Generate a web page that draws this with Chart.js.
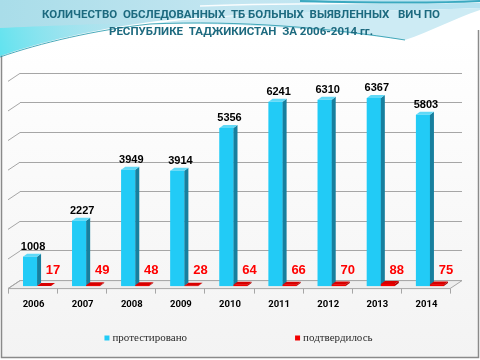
<!DOCTYPE html>
<html><head><meta charset="utf-8">
<script src="https://cdn.jsdelivr.net/npm/chart.js@4/dist/chart.umd.min.js"></script>
<style>html,body{margin:0;padding:0;background:#fff;overflow:hidden}canvas{display:block}</style>
</head><body>
<canvas id="c" width="480" height="360"></canvas>
<script>
const years = ['2006','2007','2008','2009','2010','2011','2012','2013','2014'];
const tested = [1008,2227,3949,3914,5356,6241,6310,6367,5803];
const confirmed = [17,49,48,28,64,66,70,88,75];
const seriesNames = ['протестировано','подтвердилось'];
const titleLines = ['КОЛИЧЕСТВО  ОБСЛЕДОВАННЫХ  ТБ БОЛЬНЫХ  ВЫЯВЛЕННЫХ   ВИЧ ПО','РЕСПУБЛИКЕ  ТАДЖИКИСТАН  ЗА 2006-2014 гг.'];
const yMax = 7000, yStep = 1000;

const PLANE_DX = -7.5, PLANE_DY = 6;   // bar plane relative to back wall
const FLOOR_DX = -12, FLOOR_DY = 8;    // front edge relative to back wall
const BAR_DX = 4, BAR_DY = -3;         // bar depth
const faceColors = [
  {front:'#22CBF6', side:'#177F9E', top:'#5FD9F7'},
  {front:'#F20000', side:'#A80000', top:'#D80000'}
];

const bgPlugin = {
  id:'bg',
  beforeDraw(chart){
    const {ctx,width,height} = chart;
    ctx.save();
    ctx.fillStyle = '#ffffff'; ctx.fillRect(0,0,width,height);
    let g = ctx.createLinearGradient(0,40,0,358);
    g.addColorStop(0,'#ffffff'); g.addColorStop(1,'#f3f3f3');
    ctx.fillStyle = g; ctx.fillRect(2,40,476,317);
    ctx.strokeStyle = '#8a8a8a'; ctx.lineWidth = 1.5;
    ctx.beginPath(); ctx.moveTo(1.5,30); ctx.lineTo(1.5,357.5); ctx.lineTo(478.5,357.5); ctx.lineTo(478.5,30); ctx.stroke();
    // header wave
    let hg = ctx.createLinearGradient(0,0,480,0);
    hg.addColorStop(0,'#a9dde9'); hg.addColorStop(0.5,'#c4e6f1'); hg.addColorStop(1,'#b5e2f0');
    ctx.fillStyle = hg;
    ctx.beginPath(); ctx.moveTo(0,0); ctx.lineTo(480,0); ctx.lineTo(480,8);
    ctx.bezierCurveTo(380,12,230,12,150,22);
    ctx.bezierCurveTo(95,29,40,42,0,56); ctx.closePath(); ctx.fill();
    // cyan glow bottom-left
    let cg = ctx.createLinearGradient(0,60,140,20);
    cg.addColorStop(0,'#5fe3ef'); cg.addColorStop(1,'rgba(180,235,245,0)');
    ctx.fillStyle = cg;
    ctx.beginPath(); ctx.moveTo(0,28); ctx.bezierCurveTo(40,26,100,24,150,22);
    ctx.bezierCurveTo(95,29,40,42,0,56); ctx.closePath(); ctx.fill();
    // lower swoosh
    ctx.fillStyle = '#cdebf4';
    ctx.beginPath(); ctx.moveTo(150,24);
    ctx.bezierCurveTo(240,22,330,30,405,40);
    ctx.bezierCurveTo(430,32,455,18,480,10); ctx.lineTo(480,8);
    ctx.bezierCurveTo(380,12,230,12,150,24); ctx.closePath(); ctx.fill();
    // streak lines
    ctx.strokeStyle = 'rgba(30,150,170,0.8)'; ctx.lineWidth = 1;
    ctx.beginPath(); ctx.moveTo(0,57); ctx.bezierCurveTo(40,43,95,30,150,24); ctx.bezierCurveTo(240,20,330,28,405,40); ctx.stroke();
    ctx.strokeStyle = 'rgba(255,255,255,0.9)'; ctx.lineWidth = 1.5;
    ctx.beginPath(); ctx.moveTo(200,6); ctx.bezierCurveTo(300,2,400,4,480,2); ctx.stroke();
    ctx.strokeStyle = '#3aa9c0'; ctx.lineWidth = 2;
    ctx.beginPath(); ctx.moveTo(300,1); ctx.bezierCurveTo(380,3,440,3,480,1); ctx.stroke();
    ctx.restore();
  }
};

const threeD = {
  id:'threeD',
  beforeDatasetsDraw(chart){
    const {ctx, chartArea:a, scales:{y}} = chart;
    ctx.save();
    ctx.fillStyle = '#eeeeee';
    ctx.beginPath();
    ctx.moveTo(a.left,a.bottom); ctx.lineTo(a.right,a.bottom);
    ctx.lineTo(a.right+FLOOR_DX,a.bottom+FLOOR_DY); ctx.lineTo(a.left+FLOOR_DX,a.bottom+FLOOR_DY);
    ctx.closePath(); ctx.fill();
    ctx.strokeStyle = '#a6a6a6'; ctx.lineWidth = 1; ctx.stroke();
    for (let v=0; v<=yMax; v+=yStep){
      const py = y.getPixelForValue(v);
      ctx.beginPath(); ctx.moveTo(a.left,py); ctx.lineTo(a.left+FLOOR_DX,py+FLOOR_DY); ctx.stroke();
    }
    const step = a.width/years.length;
    for (let i=0;i<=years.length;i++){
      const px = Math.round(a.left+FLOOR_DX+i*step)+0.5;
      ctx.beginPath(); ctx.moveTo(px,a.bottom+FLOOR_DY); ctx.lineTo(px,a.bottom+FLOOR_DY+5); ctx.stroke();
    }
    ctx.restore();
    ctx.save();
    ctx.translate(PLANE_DX, PLANE_DY);
  },
  afterDatasetsDraw(chart){
    const ctx = chart.ctx;
    const metas = [chart.getDatasetMeta(0), chart.getDatasetMeta(1)];
    for (let i=0;i<years.length;i++){
      metas.forEach((m,d)=>{
        const el = m.data[i]; const c = faceColors[d];
        const l = el.x-el.width/2, r = el.x+el.width/2, t = el.y, b = el.base;
        ctx.fillStyle = c.front; ctx.fillRect(l,t,r-l,b-t);
        ctx.fillStyle = c.side;
        ctx.beginPath(); ctx.moveTo(r,t); ctx.lineTo(r+BAR_DX,t+BAR_DY); ctx.lineTo(r+BAR_DX,b+BAR_DY); ctx.lineTo(r,b); ctx.closePath(); ctx.fill();
        ctx.fillStyle = c.top;
        ctx.beginPath(); ctx.moveTo(l,t); ctx.lineTo(l+BAR_DX,t+BAR_DY); ctx.lineTo(r+BAR_DX,t+BAR_DY); ctx.lineTo(r,t); ctx.closePath(); ctx.fill();
      });
    }
    ctx.restore();
    // value labels
    ctx.save();
    ctx.textAlign = 'center'; ctx.textBaseline = 'middle';
    metas[0].data.forEach((el,i)=>{
      ctx.font = 'bold 11px "Liberation Sans Narrow", "Liberation Sans", Arial, sans-serif';
      ctx.fillStyle = '#000';
      ctx.fillText(String(tested[i]), el.x+PLANE_DX+3, el.y+PLANE_DY-10);
    });
    metas[1].data.forEach((el,i)=>{
      ctx.font = 'bold 13px "Liberation Sans Narrow", "Liberation Sans", Arial, sans-serif';
      ctx.fillStyle = '#FF0000';
      ctx.fillText(String(confirmed[i]), el.x+PLANE_DX+9, el.base+PLANE_DY-16);
    });
    ctx.restore();
  }
};

const legendPlugin = {
  id:'customLegend',
  afterDraw(chart){
    const ctx = chart.ctx;
    ctx.save();
    ctx.font = '11px "Liberation Serif", "Times New Roman", serif';
    ctx.textBaseline = 'middle';
    const box = 5, gapText = 3, gapItems = 108;
    const widths = chart.data.datasets.map(ds => box + gapText + ctx.measureText(ds.label).width);
    const total = widths.reduce((s,w)=>s+w,0) + gapItems*(widths.length-1);
    let x = chart.width/2 - 1.5 - total/2; const yc = 338;
    chart.data.datasets.forEach((ds,k)=>{
      ctx.fillStyle = ds.backgroundColor;
      ctx.fillRect(x, yc-2.5, box, box);
      ctx.fillStyle = '#2a2a2a';
      ctx.fillText(ds.label, x+box+gapText, yc);
      x += widths[k] + gapItems;
    });
    ctx.restore();
  }
};

new Chart(document.getElementById('c'), {
  type:'bar',
  data:{
    labels: years,
    datasets:[
      {label:seriesNames[0], data:tested, backgroundColor:faceColors[0].front},
      {label:seriesNames[1], data:confirmed, backgroundColor:faceColors[1].front}
    ]
  },
  options:{
    responsive:false, animation:false, devicePixelRatio:1,
    categoryPercentage:0.57, barPercentage:1,
    layout:{padding:{left:20,right:18,top:0,bottom:32}},
    plugins:{
      legend:{display:false}, tooltip:{enabled:false},
      title:{display:true, text:titleLines, color:'#1d6a7f',
        font:{family:'Roboto', size:11.5, weight:'bold', lineHeight:1.45},
        padding:{top:7,bottom:33}}
    },
    scales:{
      x:{grid:{display:false, drawTicks:false}, border:{display:false},
         ticks:{color:'#000', font:{family:'Roboto', size:9.5, weight:'bold'}, padding:18, labelOffset:-11, maxRotation:0, autoSkip:false}},
      y:{min:0, max:yMax, ticks:{display:false, stepSize:yStep},
         grid:{color:'#a6a6a6', drawTicks:false}, border:{display:false}}
    }
  },
  plugins:[bgPlugin, threeD, legendPlugin]
});
</script>
</body></html>
